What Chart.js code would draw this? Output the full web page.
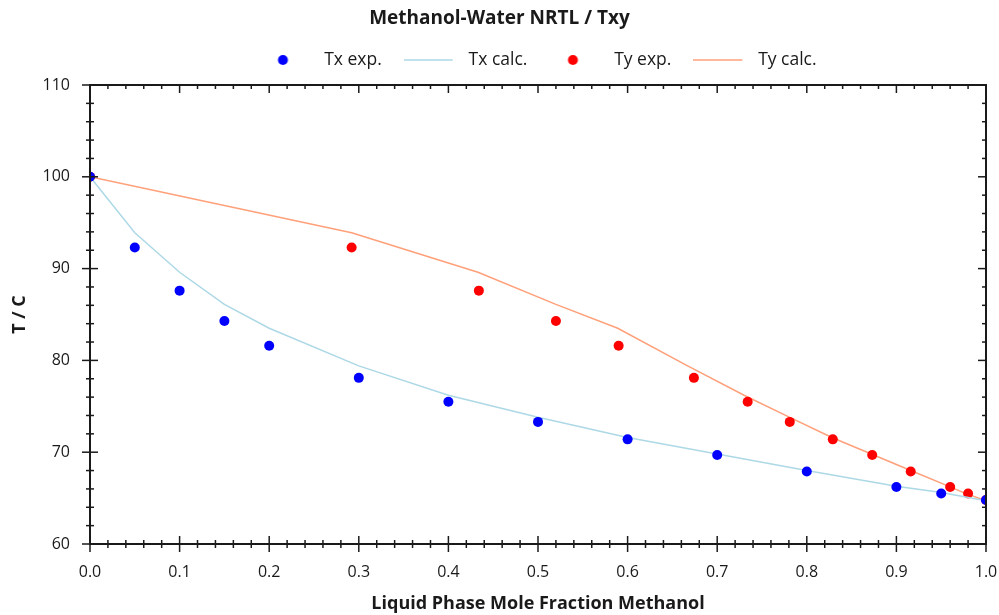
<!DOCTYPE html>
<html>
<head>
<meta charset="utf-8">
<title>Methanol-Water NRTL / Txy</title>
<script src="https://cdn.jsdelivr.net/npm/chart.js@4.4.1/dist/chart.umd.min.js"></script>
<style>
  html, body { margin: 0; padding: 0; background: #ffffff; }
  #wrap { width: 999px; height: 615px; }
</style>
</head>
<body>
<div id="wrap"><canvas id="txy" width="999" height="615"></canvas></div>
<script>
// Liquid mole fraction of methanol at each measured point
const xLiquid = [0, 0.05, 0.1, 0.15, 0.2, 0.3, 0.4, 0.5, 0.6, 0.7, 0.8, 0.9, 0.95, 1.0];
// Measured bubble temperatures (C)
const tExp = [100, 92.3, 87.6, 84.3, 81.6, 78.1, 75.5, 73.3, 71.4, 69.7, 67.9, 66.2, 65.5, 64.8];
// Measured vapour mole fraction of methanol
const yVaporExp = [0, 0.292, 0.434, 0.520, 0.590, 0.674, 0.734, 0.781, 0.829, 0.873, 0.916, 0.960, 0.980, 1.0];
// NRTL model: temperatures and vapour compositions
const tCalc = [100, 93.9, 89.6, 86.1, 83.5, 79.4, 76.2, 73.8, 71.6, 69.8, 68.0, 66.3, 65.6, 64.7];
const yVaporCalc = [0, 0.292, 0.433, 0.520, 0.589, 0.667, 0.730, 0.781, 0.828, 0.872, 0.916, 0.958, 0.975, 1.0];

const xTicks = [0, 0.1, 0.2, 0.3, 0.4, 0.5, 0.6, 0.7, 0.8, 0.9, 1.0];
const yTicks = [60, 70, 80, 90, 100, 110];

const FONT = "'Open Sans', 'Noto Sans', 'DejaVu Sans', sans-serif";
const INK = '#1a1a1a';

const pairs = (xs, ys) => xs.map((x, i) => ({ x, y: ys[i] }));

// Legend symbols: a dot or a short line inside a 56px-wide box
function legendSymbol(kind, color) {
  const c = document.createElement('canvas');
  c.width = 56; c.height = 14;
  const g = c.getContext('2d');
  if (kind === 'dot') {
    g.fillStyle = color;
    g.beginPath();
    g.arc(23.5, 7, 5, 0, Math.PI * 2);
    g.fill();
  } else {
    g.strokeStyle = color;
    g.lineWidth = 1.5;
    g.beginPath();
    g.moveTo(0, 7);
    g.lineTo(49, 7);
    g.stroke();
  }
  return c;
}

// Center the legend row over the plot area rather than the whole canvas
const legendOverPlot = {
  id: 'legendOverPlot',
  afterLayout(chart) {
    const lg = chart.legend, a = chart.chartArea;
    if (!lg || !a) return;
    lg.left = a.left;
    lg.right = a.right;
    lg.width = a.right - a.left;
  }
};

// Box frame with major/minor ticks; ticks cross the left and bottom edges, point inward on top and right
const frameTicks = {
  id: 'frameTicks',
  afterDatasetsDraw(chart) {
    const { ctx, chartArea: a, scales: { x, y } } = chart;
    ctx.save();
    ctx.strokeStyle = INK;
    ctx.lineCap = 'butt';
    ctx.lineWidth = 1.5;
    const seg = (x1, y1, x2, y2) => { ctx.beginPath(); ctx.moveTo(x1, y1); ctx.lineTo(x2, y2); ctx.stroke(); };
    for (let i = 0; i <= 50; i++) {
      const v = i / 50;
      const px = x.getPixelForValue(v);
      const major = i % 5 === 0;
      const L = major ? 8 : 4;
      seg(px, a.bottom - L, px, a.bottom + L);
      seg(px, a.top, px, a.top + L);
    }
    for (let v = 60; v <= 110; v += 2) {
      const py = y.getPixelForValue(v);
      const major = v % 10 === 0;
      const L = major ? 8 : 4;
      seg(a.left - L, py, a.left + L, py);
      seg(a.right - L, py, a.right, py);
    }
    ctx.lineWidth = 2;
    ctx.strokeRect(a.left, a.top, a.right - a.left, a.bottom - a.top);
    ctx.restore();
  }
};

const ctx = document.getElementById('txy').getContext('2d');
new Chart(ctx, {
  type: 'scatter',
  data: {
    datasets: [
      {
        label: 'Tx exp.',
        data: pairs(xLiquid, tExp),
        showLine: false,
        pointRadius: 5,
        pointHoverRadius: 5,
        pointBackgroundColor: '#0000ff',
        pointBorderWidth: 0,
        legendSymbol: legendSymbol('dot', '#0000ff')
      },
      {
        label: 'Tx calc.',
        data: pairs(xLiquid, tCalc),
        showLine: true,
        borderColor: '#add8e6',
        borderWidth: 1.5,
        pointRadius: 0,
        tension: 0,
        legendSymbol: legendSymbol('line', '#add8e6')
      },
      {
        label: 'Ty exp.',
        data: pairs(yVaporExp, tExp),
        showLine: false,
        pointRadius: 5,
        pointHoverRadius: 5,
        pointBackgroundColor: '#ff0000',
        pointBorderWidth: 0,
        legendSymbol: legendSymbol('dot', '#ff0000')
      },
      {
        label: 'Ty calc.',
        data: pairs(yVaporCalc, tCalc),
        showLine: true,
        borderColor: '#ffa07a',
        borderWidth: 1.5,
        pointRadius: 0,
        tension: 0,
        legendSymbol: legendSymbol('line', '#ffa07a')
      }
    ]
  },
  options: {
    responsive: false,
    animation: false,
    events: [],
    layout: { padding: 0 },
    plugins: {
      tooltip: { enabled: false },
      title: {
        display: true,
        text: 'Methanol-Water NRTL / Txy',
        color: INK,
        font: { family: FONT, size: 19, weight: 'bold', lineHeight: 1.1 },
        padding: { top: 8.35, bottom: 0 }
      },
      legend: {
        display: true,
        position: 'top',
        labels: {
          color: INK,
          font: { family: FONT, size: 17.5 },
          usePointStyle: true,
          pointStyleWidth: 56,
          padding: 22,
          generateLabels(chart) {
            return chart.data.datasets.map((ds, i) => ({
              text: ds.label,
              pointStyle: ds.legendSymbol,
              fillStyle: 'transparent',
              strokeStyle: 'transparent',
              lineWidth: 0,
              fontColor: INK,
              hidden: false,
              datasetIndex: i
            }));
          }
        }
      }
    },
    scales: {
      x: {
        type: 'linear',
        position: 'bottom',
        min: 0,
        max: 1,
        afterBuildTicks(scale) { scale.ticks = xTicks.map(v => ({ value: v })); },
        afterFit(scale) { scale.height = 71; scale.paddingLeft = 0; scale.paddingRight = 13; },
        grid: { display: false, drawTicks: false },
        border: { display: false },
        ticks: {
          color: INK,
          font: { family: FONT, size: 16 },
          padding: 19,
          maxRotation: 0,
          callback: v => Number(v).toFixed(1)
        },
        title: {
          display: true,
          text: 'Liquid Phase Mole Fraction Methanol',
          color: INK,
          font: { family: FONT, size: 18, weight: 'bold' },
          padding: { top: 0, bottom: 0 }
        }
      },
      xTop: {
        type: 'linear',
        position: 'top',
        min: 0,
        max: 1,
        display: true,
        afterFit(scale) { scale.height = 6.25; scale.paddingLeft = 0; scale.paddingRight = 0; },
        grid: { display: false, drawTicks: false },
        border: { display: false },
        ticks: { display: false }
      },
      y: {
        type: 'linear',
        min: 60,
        max: 110,
        afterBuildTicks(scale) { scale.ticks = yTicks.map(v => ({ value: v })); },
        afterFit(scale) { scale.width = 90; scale.paddingTop = 0; scale.paddingBottom = 0; },
        grid: { display: false, drawTicks: false },
        border: { display: false },
        ticks: {
          color: INK,
          font: { family: FONT, size: 16 },
          padding: 20
        },
        title: {
          display: true,
          text: 'T / C',
          color: INK,
          font: { family: FONT, size: 18, weight: 'bold' },
          padding: { top: 8.7, bottom: 0 }
        }
      }
    }
  },
  plugins: [legendOverPlot, frameTicks]
});
</script>
</body>
</html>
